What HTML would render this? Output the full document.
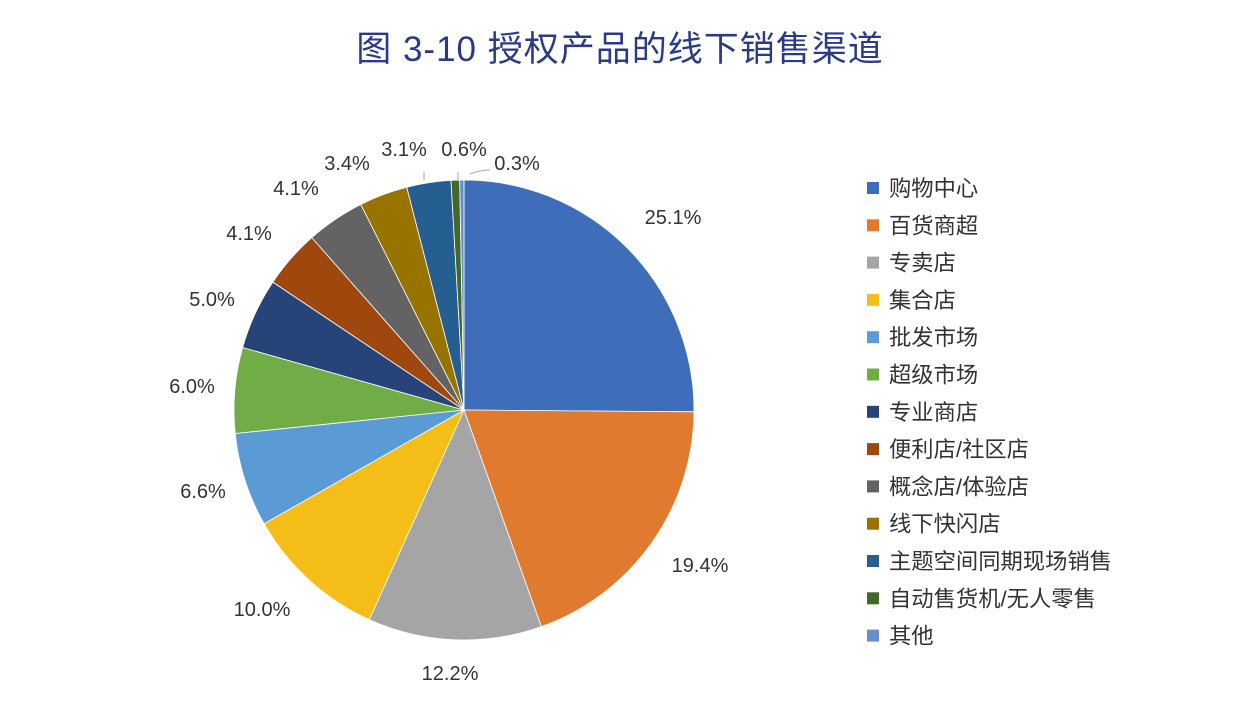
<!DOCTYPE html>
<html><head><meta charset="utf-8"><style>
body{margin:0;background:#fff;}
svg text{font-family:"Liberation Sans","Noto Sans CJK SC",sans-serif;}
</style></head><body>
<svg id="s" width="1238" height="712" viewBox="0 0 1238 712" xmlns="http://www.w3.org/2000/svg">
<rect width="1238" height="712" fill="#fff"/>
<text x="620" y="61" text-anchor="middle" font-size="35" fill="#2b3a86" letter-spacing="1">图 3-10  授权产品的线下销售渠道</text>
<g id="pie"></g>
<g id="lab" font-size="20" fill="#333"></g>
<g id="leg" font-size="22.3" fill="#333"></g>
</svg>
<script>
var d=[25.1,19.4,12.2,10.0,6.6,6.0,5.0,4.1,4.1,3.4,3.1,0.6,0.3];
var c=["#3e6dba","#e07a2f","#a5a5a5","#f5bd18","#5b9bd5","#70ad47","#264478","#9e480e","#636363","#997300","#255e91","#43682b","#698ed0"];
var n=["购物中心","百货商超","专卖店","集合店","批发市场","超级市场","专业商店","便利店/社区店","概念店/体验店","线下快闪店","主题空间同期现场销售","自动售货机/无人零售","其他"];
var L=[[673,217],[700,565],[450,673],[262,609],[203,491],[192,386],[212,299],[249,233],[296,188],[347,163],[404,149],[464,149],[517,163]];
var cx=464,cy=410,r=230,tot=d.reduce((a,b)=>a+b,0),a=0,P="",T="",G="";
function pt(t){return [cx+r*Math.sin(t),cy-r*Math.cos(t)];}
for(var i=0;i<d.length;i++){var a1=a+d[i]/tot*2*Math.PI,p0=pt(a),p1=pt(a1),lg=(a1-a)>Math.PI?1:0;
P+='<path d="M'+cx+','+cy+'L'+p0[0].toFixed(2)+','+p0[1].toFixed(2)+'A'+r+','+r+' 0 '+lg+' 1 '+p1[0].toFixed(2)+','+p1[1].toFixed(2)+'Z" fill="'+c[i]+'" stroke="#fff" stroke-width="0.8"/>';
a=a1;
T+='<text x="'+L[i][0]+'" y="'+(L[i][1]+7)+'" text-anchor="middle">'+d[i].toFixed(1)+'%</text>';
var y=188+i*37.3;
G+='<rect x="867" y="'+(y-6)+'" width="12" height="12" fill="'+c[i]+'"/><text x="889" y="'+(y+8)+'">'+n[i]+'</text>';}
P+='<path d="M424,172V180M458,172V180M470,174Q480,170 490,170" stroke="#aaa" fill="none"/>';
document.getElementById('pie').innerHTML=P;document.getElementById('lab').innerHTML=T;document.getElementById('leg').innerHTML=G;
</script>
</body></html>
